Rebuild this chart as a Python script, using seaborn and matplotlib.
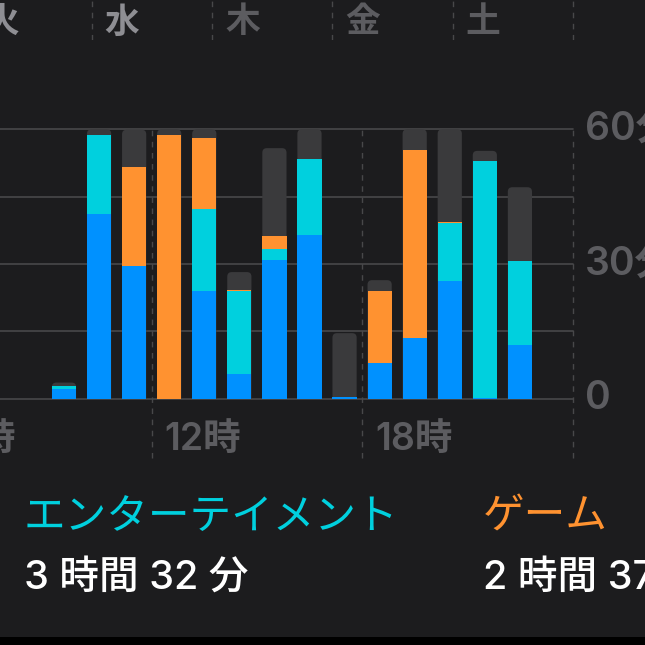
import matplotlib
matplotlib.use("Agg")
import matplotlib.pyplot as plt
import seaborn as sns
from matplotlib.patches import FancyBboxPatch, Rectangle

# hourly usage in minutes, stacked bottom -> top
hours = [9, 10, 11, 12, 13, 14, 15, 16, 17, 18, 19, 20, 21, 22]
productivity = [2.2, 41.1, 29.6, 0, 24.0, 5.5, 30.9, 36.5, 0.4, 7.9, 13.5, 26.2, 0.2, 12.0]
entertainment = [0.7, 17.6, 0, 0, 18.2, 18.5, 2.4, 16.9, 0, 0, 0, 12.9, 52.7, 18.7]
games = [0, 0, 22.0, 58.7, 15.9, 0.2, 2.9, 0, 0, 16.1, 41.9, 0.3, 0, 0]
other = [0.7, 1.3, 8.3, 1.3, 1.9, 4.0, 19.6, 6.6, 14.2, 2.4, 4.6, 20.6, 2.3, 16.4]

y_ticks = [0, 15, 30, 45, 60]
y_labels = ["0", "", "30分", "", "60分"]
hour_marks = [6, 12, 18]
hour_labels = ["6時", "12時", "18時"]
weekdays = ["火", "水", "木", "金", "土"]
weekday_colors = ["#8e8e93", "#8e8e93", "#5c5c60", "#5c5c60", "#5c5c60"]

legend_names = ["エンターテイメント", "ゲーム"]
legend_values = ["3 時間 32 分", "2 時間 37 分"]

BG = "#1c1c1e"
BLUE = "#0091ff"
CYAN = "#00d0de"
ORANGE = "#ff9230"
GRAY = "#3a3a3c"
GRID = "#48484a"
LABEL = "#5c5c60"

sns.set_theme(style="white", rc={"axes.facecolor": BG, "figure.facecolor": BG,
                                 "patch.edgecolor": "none"})
plt.rcParams["font.family"] = ["Inter", "Noto Sans CJK JP", "DejaVu Sans"]

W = 645.0
fig = plt.figure(figsize=(6.45, 6.45), dpi=100)

# main hourly chart
ax = fig.add_axes([0, 1 - 398.7 / W, 572.5 / W, 269.4 / W])

# bars sit in the middle of their hour slot
xpos = [h + 0.5 for h in hours]
s_blue = productivity
s_cyan = [a + b for a, b in zip(s_blue, entertainment)]
s_orange = [a + b for a, b in zip(s_cyan, games)]
s_total = [a + b for a, b in zip(s_orange, other)]

sns.barplot(x=xpos, y=s_total, native_scale=True, width=0.69, color=GRAY,
            saturation=1, errorbar=None, linewidth=0, ax=ax)
# round the top of each stack
rx, ry = 4.5 / 35.07, 1.0
for p in list(ax.patches):
    x0, w, h = p.get_x(), p.get_width(), p.get_height()
    p.remove()
    ax.add_patch(FancyBboxPatch((x0, -ry), w, h + ry,
                                boxstyle=f"round,pad=0,rounding_size={rx}",
                                mutation_aspect=ry / rx, fc=GRAY, ec="none", zorder=2))

for vals, col in [(s_orange, ORANGE), (s_cyan, CYAN), (s_blue, BLUE)]:
    sns.barplot(x=xpos, y=vals, native_scale=True, width=0.69, color=col,
                saturation=1, errorbar=None, linewidth=0, ax=ax, zorder=3)

ax.set_xlim(12 - 151.7 / 35.07, 24)
ax.set_ylim(0, 60)
ax.set_xticks([])
ax.set_xlabel("")
ax.set_ylabel("")
ax.yaxis.tick_right()
ax.set_yticks(y_ticks)
ax.set_yticklabels(y_labels, color=LABEL, fontsize=28, fontweight="semibold")
ax.tick_params(axis="y", length=0, pad=9)
for t in ax.get_yticklabels():
    t.set_verticalalignment("center")
ax.yaxis.grid(True, color=GRID, lw=1.2)
for gl in ax.get_ygridlines():
    gl.set_clip_on(False)
ax.set_axisbelow(True)
sns.despine(ax=ax, left=True, bottom=True, right=True, top=True)

xtr = ax.get_xaxis_transform()
for h in [12, 18, 24]:
    ax.plot([h, h], [-0.22, 1], transform=xtr, color=GRID, lw=1,
            dashes=(4, 4), clip_on=False, zorder=1)
for h, lab in zip(hour_marks, hour_labels):
    ax.text(h + 13 / 35.07, -0.153, lab, transform=xtr, color=LABEL, fontsize=27,
            fontweight="semibold", ha="left", va="center", clip_on=False)

# weekday strip at the top
axw = fig.add_axes([0, 1 - 40 / W, 1, 40 / W])
axw.set_facecolor(BG)
axw.set_xlim(1 - 91.7 / 120.3, 1 + (W - 91.7) / 120.3)
axw.set_ylim(0, 1)
axw.axis("off")
for d in range(1, 6):
    axw.plot([d, d], [0, 1], color=GRID, lw=1, dashes=(4, 4))
for d, (lab, col) in enumerate(zip(weekdays, weekday_colors)):
    axw.text(d + 13 / 120.3, 0.42, lab, color=col, fontsize=25, fontweight="bold",
             ha="left", va="center", clip_on=False)

# legend / totals
legend_colors = [CYAN, ORANGE]
for x_px, name, val, col in zip([24, 483], legend_names, legend_values, legend_colors):
    fig.text(x_px / W, 1 - 518 / W, name, color=col, fontsize=30, ha="left", va="center")
    fig.text(x_px / W, 1 - 578 / W, val, color="white", fontsize=28.5,
             fontweight="medium", ha="left", va="center")

fig.patches.append(Rectangle((0, 0), 1, 8 / W, transform=fig.transFigure,
                             fc="black", ec="none"))

fig.savefig("out.png", dpi=100, facecolor=BG)
